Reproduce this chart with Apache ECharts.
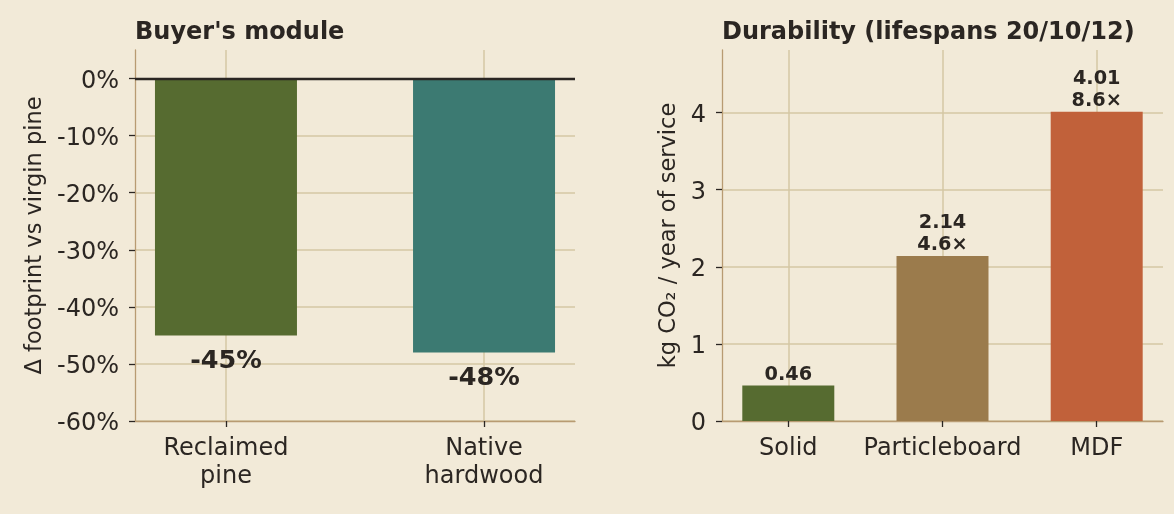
<!DOCTYPE html>
<html><head><meta charset="utf-8">
<script src="https://cdn.jsdelivr.net/npm/echarts@6/dist/echarts.min.js"></script>
<style>html,body{margin:0;padding:0;background:#f2ead8;}#c{width:1174px;height:514px;}</style>
</head><body><div id="c"></div>
<script>
// Left panel data
const buyerCategories = ['Reclaimed\npine', 'Native\nhardwood'];
const buyerValues = [-45, -48];
const buyerLabels = ['-45%', '-48%'];
const buyerColors = ['#566b30', '#3c7a72'];
const buyerTicks = [-60, -50, -40, -30, -20, -10, 0];

// Right panel data
const durCategories = ['Solid', 'Particleboard', 'MDF'];
const durValues = [0.46, 2.14, 4.01];
const durLabels = ['0.46', '2.14\n4.6×', '4.01\n8.6×'];
const durColors = ['#566b30', '#9b7b4c', '#c1613a'];
const durTicks = [0, 1, 2, 3, 4];

const TXT = '#2b2622', GRID = '#d4c7a4', AX = '#b89b72';
const FONT = 'DejaVu Sans';

const chart = echarts.init(document.getElementById('c'));

function xAxisFor(idx, cats, min, max) {
  const vals = cats.map((_, i) => i);
  return {
    type: 'value', gridIndex: idx, min: min, max: max,
    axisLine: {show: true, onZero: false, lineStyle: {color: AX, width: 1.3}},
    axisTick: {show: true, customValues: vals, length: 6, lineStyle: {color: TXT, width: 1.3}},
    axisLabel: {customValues: vals, formatter: v => cats[Math.round(v)], color: TXT, fontSize: 24, fontFamily: FONT, margin: 14, lineHeight: 28},
    splitLine: {show: true, lineStyle: {color: GRID, width: 1.5}}
  };
}
function yAxisFor(idx, ticks, min, max, fmt, name, gap) {
  return {
    type: 'value', gridIndex: idx, min: min, max: max,
    name: name, nameLocation: 'middle', nameGap: gap, nameRotate: 90,
    nameTextStyle: {color: TXT, fontSize: 22.5, fontFamily: FONT},
    axisLine: {show: true, onZero: false, lineStyle: {color: AX, width: 1.3}},
    axisTick: {show: true, customValues: ticks, length: 6, lineStyle: {color: TXT, width: 1.3}},
    axisLabel: {customValues: ticks, formatter: v => '{t|' + fmt(v) + '}', margin: 16,
      rich: {t: {color: TXT, fontSize: 24, fontFamily: FONT, lineHeight: 24, padding: [6, 0, 0, 0]}}},
    splitLine: {show: true, lineStyle: {color: GRID, width: 1.5}}
  };
}

chart.setOption({
  backgroundColor: '#f2ead8',
  animation: false,
  title: [
    {text: "Buyer's module", left: 135, top: 21, padding: 0, textStyle: {color: TXT, fontSize: 24, fontWeight: 'bold', fontFamily: FONT}},
    {text: 'Durability (lifespans 20/10/12)', left: 722, top: 21, padding: 0, textStyle: {color: TXT, fontSize: 24, fontWeight: 'bold', fontFamily: FONT}}
  ],
  grid: [
    {left: 135, right: 599, top: 50, bottom: 93},
    {left: 722, right: 11, top: 50, bottom: 93}
  ],
  xAxis: [
    xAxisFor(0, buyerCategories, -0.3525, 1.3525),
    xAxisFor(1, durCategories, -0.43, 2.43)
  ],
  yAxis: [
    yAxisFor(0, buyerTicks, -60, 5, v => v + '%', 'Δ footprint vs virgin pine', 88),
    yAxisFor(1, durTicks, 0, 4.812, v => String(v), 'kg CO₂ / year of service', 41)
  ],
  series: [
    {
      type: 'bar', xAxisIndex: 0, yAxisIndex: 0, barWidth: 142,
      data: buyerValues.map((v, i) => ({value: [i, v], itemStyle: {color: buyerColors[i]},
        label: {show: true, position: 'bottom', distance: 13, formatter: buyerLabels[i], color: TXT, fontSize: 25.5, fontWeight: 'bold', fontFamily: FONT}})),
      markLine: {silent: true, symbol: 'none', label: {show: false},
        lineStyle: {color: TXT, width: 2.4, type: 'solid'}, data: [{yAxis: 0}]}
    },
    {
      type: 'bar', xAxisIndex: 1, yAxisIndex: 1, barWidth: 92,
      data: durValues.map((v, i) => ({value: [i, v], itemStyle: {color: durColors[i]},
        label: {show: true, position: 'top', distance: 0, formatter: durLabels[i], color: TXT, fontSize: 19.3, fontWeight: 'bold', fontFamily: FONT, lineHeight: 22}}))
    }
  ]
});
</script>
</body></html>
